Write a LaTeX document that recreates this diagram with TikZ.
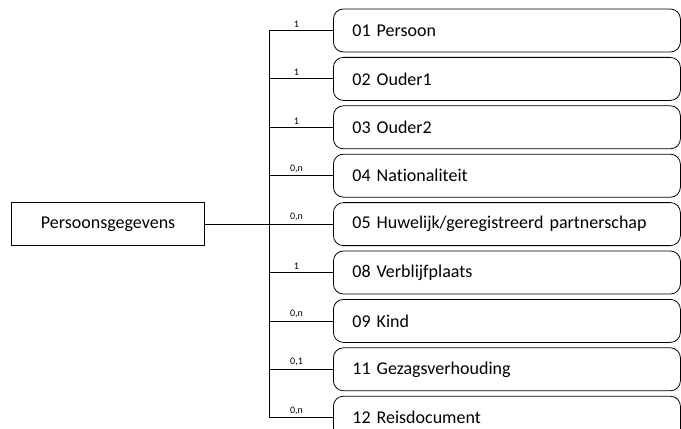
\documentclass[tikz,border=0pt]{standalone}
\usepackage{fontspec}
\setmainfont{Carlito}[Ligatures={NoCommon}]
\usetikzlibrary{positioning}
\tikzset{
tree/.style={line width=0.6pt,node distance=3.45pt,font=\fontsize{13.5}{15}\selectfont},
entity/.style={draw,minimum width=144.75pt,minimum height=32.25pt,inner sep=0pt},
record/.style={draw,rounded corners=7.5pt,text width=231.75pt,inner xsep=14.25pt,
    inner ysep=0pt,minimum height=32.25pt,align=left},
card/.style={above,font=\fontsize{7.5}{8}\selectfont,inner sep=2pt,pos=0.43},
}

\begin{document}
\begin{tikzpicture}[tree,x=0.75pt,y=-0.75pt]
    \useasboundingbox (0,0) rectangle (681,428);

    \node[record,anchor=west] (01) at (333,30.5) {01 Persoon};
    \node[record] (02) [below=of 01] {02 Ouder1};
    \node[record] (03) [below=of 02] {03 Ouder2};
    \node[record] (04) [below=of 03] {04 Nationaliteit};
    \node[record] (05) [below=of 04] {05 Huwelijk/geregistreerd partnerschap};
    \node[record] (08) [below=of 05] {08 Verblijfplaats};
    \node[record] (09) [below=of 08] {09 Kind};
    \node[record] (11) [below=of 09] {11 Gezagsverhouding};
    \node[record] (12) [below=of 11] {12 Reisdocument};
    \node[entity] (pg) [left=96pt of 05] {Persoonsgegevens};
    \coordinate[left=48pt of 01.west] (bus);

    \draw (pg.east) -- (pg.east -| bus);
    \draw (bus |- 01.west) -- (bus |- 12.west);
    \path[draw]
        (bus |- 01.west) edge node[card] {1} (01.west)
        (bus |- 02.west) edge node[card] {1} (02.west)
        (bus |- 03.west) edge node[card] {1} (03.west)
        (bus |- 04.west) edge node[card] {0,n} (04.west)
        (bus |- 05.west) edge node[card] {0,n} (05.west)
        (bus |- 08.west) edge node[card] {1} (08.west)
        (bus |- 09.west) edge node[card] {0,n} (09.west)
        (bus |- 11.west) edge node[card] {0,1} (11.west)
        (bus |- 12.west) edge node[card] {0,n} (12.west)
    ;
\end{tikzpicture}
\end{document}
